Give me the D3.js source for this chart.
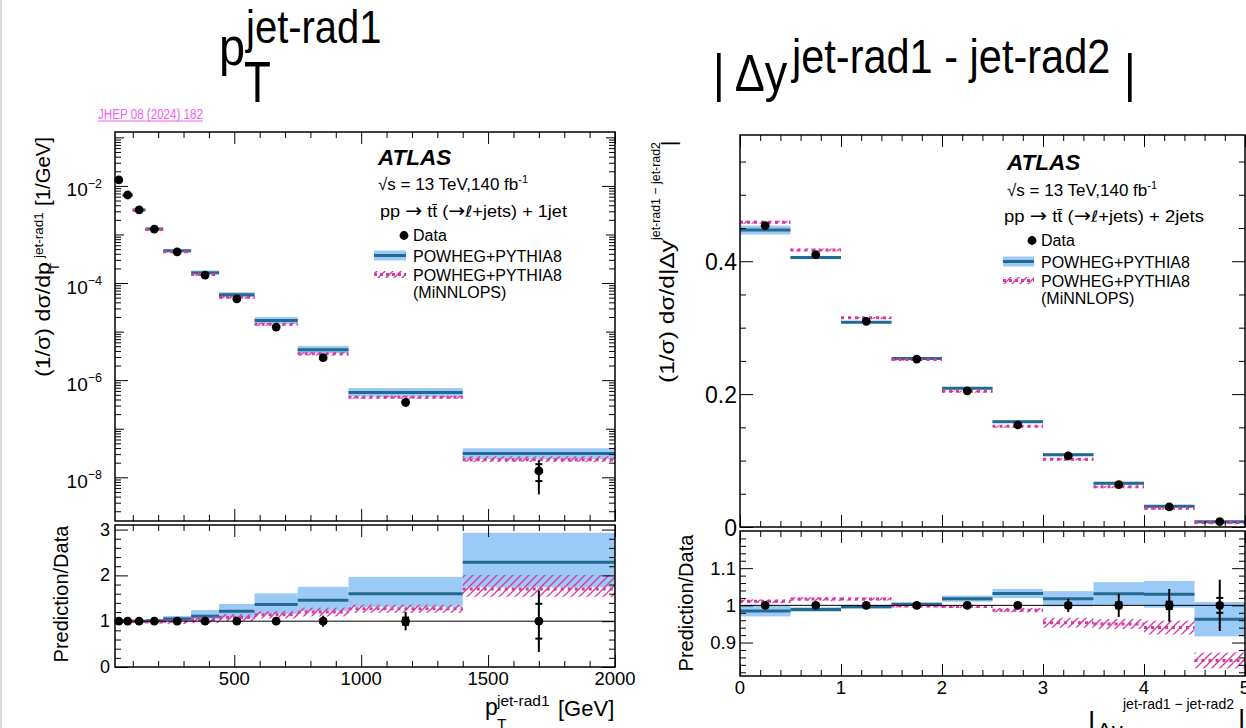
<!DOCTYPE html>
<html><head><meta charset="utf-8">
<script src="https://cdn.jsdelivr.net/npm/d3@7"></script>
<style>
html,body{margin:0;padding:0;background:#fff;}
svg{display:block;font-family:"Liberation Sans",Arial,Helvetica,sans-serif;}
</style></head><body>
<svg id="chart" width="1246" height="728"></svg>
<script>
// ---- leading radiated jet pT: bin edges [GeV], normalised cross-sections [1/GeV] ----
const ptEdges = [30, 60, 100, 150, 220, 330, 440, 580, 750, 950, 1400, 2000];
const ptData = [1.33e-2, 6.5e-3, 3.2e-3, 1.29e-3, 4.4e-4, 1.46e-4, 4.7e-5, 1.24e-5, 2.9e-6, 3.5e-7, 1.35e-8];
const ptDataTot = [0.02, 0.02, 0.02, 0.02, 0.02, 0.03, 0.03, 0.05, 0.12, 0.2, 0.67];
const ptDataStat = [0.005, 0.005, 0.005, 0.005, 0.01, 0.01, 0.01, 0.02, 0.04, 0.08, 0.38];
const ptPowheg = [1.33e-2, 6.5e-3, 3.2e-3, 1.30e-3, 4.62e-4, 1.62e-4, 5.73e-5, 1.69e-5, 4.23e-6, 5.6e-7, 3.09e-8];
const ptPowhegUp = [0.02, 0.02, 0.02, 0.03, 0.06, 0.12, 0.13, 0.18, 0.2, 0.23, 0.28];
const ptPowhegDn = [0.02, 0.02, 0.02, 0.03, 0.05, 0.06, 0.12, 0.15, 0.16, 0.18, 0.24];
const ptMinnlops = [1.317e-2, 6.44e-3, 3.17e-3, 1.264e-3, 4.4e-4, 1.504e-4, 5.08e-5, 1.414e-5, 3.48e-6, 4.45e-7, 2.3e-8];
const ptMinnlopsUp = [0.02, 0.02, 0.02, 0.02, 0.05, 0.07, 0.07, 0.07, 0.08, 0.07, 0.18];
const ptMinnlopsDn = [0.02, 0.02, 0.02, 0.02, 0.06, 0.07, 0.07, 0.07, 0.08, 0.07, 0.1];

// ---- rapidity separation of the two radiated jets ----
const dyEdges = [0, 0.5, 1, 1.5, 2, 2.5, 3, 3.5, 4, 4.5, 5];
const dyData = [0.4537, 0.41, 0.3095, 0.2527, 0.205, 0.1537, 0.107, 0.0639, 0.0302, 0.0081];
const dyDataTot = [0.01, 0.008, 0.006, 0.006, 0.008, 0.01, 0.018, 0.031, 0.044, 0.069];
const dyDataStat = [0.003, 0.003, 0.003, 0.003, 0.004, 0.005, 0.006, 0.008, 0.01, 0.02];
const dyPowheg = [0.4469, 0.4055, 0.3083, 0.2535, 0.2087, 0.1586, 0.1089, 0.0659, 0.0311, 0.0078];
const dyPowhegUnc = [0.015, 0.006, 0.005, 0.004, 0.008, 0.012, 0.02, 0.03, 0.035, 0.048];
const dyMinnlops = [0.4587, 0.417, 0.3148, 0.2522, 0.2044, 0.1517, 0.102, 0.0607, 0.0284, 0.0069];
const dyMinnlopsUnc = [0.005, 0.005, 0.004, 0.004, 0.004, 0.006, 0.014, 0.014, 0.02, 0.025];

// ---- tick labels ----
const ptLogLabels = [-8, -6, -4, -2];
const ptRatioLabels = [0, 1, 2, 3];
const ptXLabels = [500, 1000, 1500, 2000];
const dyMainLabels = [0, 0.2, 0.4];
const dyRatioLabels = [0.9, 1, 1.1];
const dyXLabels = [0, 1, 2, 3, 4, 5];

const MAG = '#d8389f', LBLUE = '#9ccaf6', DBLUE = '#236991', LINK = '#f25cf2';

const svg = d3.select('#chart');
const defs = svg.append('defs');
defs.append('pattern').attr('id', 'hatch').attr('patternUnits', 'userSpaceOnUse')
  .attr('width', 8).attr('height', 8)
  .append('path').attr('d', 'M-2,2 L2,-2 M0,8 L8,0 M6,10 L10,6')
  .attr('stroke', MAG).attr('stroke-width', 1.4).attr('fill', 'none');

svg.append('rect').attr('x', 0).attr('y', 0).attr('width', 2).attr('height', 728).attr('fill', '#dcdcdc');

function makeBins(edges, data, tot, stat, pow, powUp, powDn, min, minUp, minDn) {
  return data.map((d, i) => ({
    lo: edges[i], hi: edges[i + 1], mid: (edges[i] + edges[i + 1]) / 2,
    data: d, tot: tot[i], stat: stat[i],
    pow: pow[i], powUp: powUp[i], powDn: powDn[i],
    min: min[i], minUp: minUp[i], minDn: minDn[i]
  }));
}

const ptBins = makeBins(ptEdges, ptData, ptDataTot, ptDataStat, ptPowheg, ptPowhegUp, ptPowhegDn,
  ptMinnlops, ptMinnlopsUp, ptMinnlopsDn);
const dyBins = makeBins(dyEdges, dyData, dyDataTot, dyDataStat, dyPowheg, dyPowhegUnc, dyPowhegUnc,
  dyMinnlops, dyMinnlopsUnc, dyMinnlopsUnc);

let clipCount = 0;
function panelClip(xs, ys) {
  const id = 'clip' + (clipCount++);
  const [x0, x1] = xs.range(), [y1, y0] = ys.range();
  defs.append('clipPath').attr('id', id).append('rect')
    .attr('x', x0).attr('y', y0).attr('width', x1 - x0).attr('height', y1 - y0);
  return id;
}

// prediction bands: light-blue band + dark central line, magenta hatched band + dotted line
function drawModels(bins, xs, ys, ratio) {
  const f = b => ratio ? 1 / b.data : 1;
  const g = svg.append('g').attr('clip-path', `url(#${panelClip(xs, ys)})`);
  g.selectAll('rect.pow').data(bins).join('rect').attr('class', 'pow')
    .attr('x', b => xs(b.lo)).attr('width', b => xs(b.hi) - xs(b.lo))
    .attr('y', b => ys(b.pow * (1 + b.powUp) * f(b)))
    .attr('height', b => ys(b.pow * (1 - b.powDn) * f(b)) - ys(b.pow * (1 + b.powUp) * f(b)))
    .attr('fill', LBLUE);
  g.selectAll('line.pow').data(bins).join('line').attr('class', 'pow')
    .attr('x1', b => xs(b.lo)).attr('x2', b => xs(b.hi))
    .attr('y1', b => ys(b.pow * f(b))).attr('y2', b => ys(b.pow * f(b)))
    .attr('stroke', DBLUE).attr('stroke-width', 3);
  g.selectAll('rect.min').data(bins).join('rect').attr('class', 'min')
    .attr('x', b => xs(b.lo)).attr('width', b => xs(b.hi) - xs(b.lo))
    .attr('y', b => ys(b.min * (1 + b.minUp) * f(b)))
    .attr('height', b => Math.max(2, ys(b.min * (1 - b.minDn) * f(b)) - ys(b.min * (1 + b.minUp) * f(b))))
    .attr('fill', 'url(#hatch)');
  g.selectAll('line.min').data(bins).join('line').attr('class', 'min')
    .attr('x1', b => xs(b.lo)).attr('x2', b => xs(b.hi))
    .attr('y1', b => ys(b.min * f(b))).attr('y2', b => ys(b.min * f(b)))
    .attr('stroke', MAG).attr('stroke-width', 3).attr('stroke-dasharray', '3,4');
}

function drawData(bins, xs, ys, ratio) {
  const v = b => ratio ? 1 : b.data;
  const g = svg.append('g');
  g.selectAll('line.err').data(bins).join('line').attr('class', 'err')
    .attr('x1', b => xs(b.mid)).attr('x2', b => xs(b.mid))
    .attr('y1', b => ys(v(b) * (1 + b.tot))).attr('y2', b => ys(v(b) * (1 - b.tot)))
    .attr('stroke', '#000').attr('stroke-width', 2);
  const caps = bins.flatMap(b => [{b, s: 1}, {b, s: -1}]);
  g.selectAll('line.cap').data(caps).join('line').attr('class', 'cap')
    .attr('x1', c => xs(c.b.mid) - 3.5).attr('x2', c => xs(c.b.mid) + 3.5)
    .attr('y1', c => ys(v(c.b) * (1 + c.s * c.b.stat))).attr('y2', c => ys(v(c.b) * (1 + c.s * c.b.stat)))
    .attr('stroke', '#000').attr('stroke-width', 2);
  g.selectAll('circle').data(bins).join('circle')
    .attr('cx', b => xs(b.mid)).attr('cy', b => ys(v(b))).attr('r', 4.4).attr('fill', '#000');
}

function unityLine(xs, ys) {
  svg.append('line').attr('x1', xs.range()[0]).attr('x2', xs.range()[1])
    .attr('y1', ys(1)).attr('y2', ys(1)).attr('stroke', '#000').attr('stroke-width', 1);
}

// inward ticks on all four sides of a frame
function tickSet(xs, ys, side, values, size) {
  const [x0, x1] = xs.range(), [y1, y0] = ys.range();
  const mk = { left: d3.axisLeft, right: d3.axisRight, top: d3.axisTop, bottom: d3.axisBottom }[side];
  const sc = (side === 'left' || side === 'right') ? ys : xs;
  const pos = { left: [x0, 0], right: [x1, 0], top: [0, y0], bottom: [0, y1] }[side];
  const g = svg.append('g').attr('transform', `translate(${pos[0]},${pos[1]})`)
    .call(mk(sc).tickValues(values).tickSize(-size).tickFormat(''));
  g.select('.domain').remove();
  g.selectAll('line').attr('stroke', '#000').attr('stroke-width', 1);
}
function frame(xs, ys) {
  const [x0, x1] = xs.range(), [y1, y0] = ys.range();
  svg.append('rect').attr('x', x0).attr('y', y0).attr('width', x1 - x0).attr('height', y1 - y0)
    .attr('fill', 'none').attr('stroke', '#000').attr('stroke-width', 1.5);
}
function axesBox(xs, ys, xMajor, xMinor, yMajor, yMinor, yMid) {
  ['top', 'bottom'].forEach(s => { tickSet(xs, ys, s, xMajor, 12); tickSet(xs, ys, s, xMinor, 6); });
  ['left', 'right'].forEach(s => {
    tickSet(xs, ys, s, yMajor, 13); tickSet(xs, ys, s, yMinor, 6);
    if (yMid) tickSet(xs, ys, s, yMid, 9);
  });
  frame(xs, ys);
}

// ================= left: pT of the leading radiated jet =================
const lx = d3.scaleLinear().domain([30, 2000]).range([115, 615]);
const lyMain = d3.scaleLog().domain([Math.pow(10, -8.9), Math.pow(10, -0.89)]).range([521, 132]);
const lyRatio = d3.scaleLinear().domain([0, 3.1]).range([667, 525]);

drawModels(ptBins, lx, lyMain, false);
drawData(ptBins, lx, lyMain, false);
drawModels(ptBins, lx, lyRatio, true);
unityLine(lx, lyRatio);
drawData(ptBins, lx, lyRatio, true);

const ptXMinor = d3.range(100, 2000, 100).filter(v => v % 500 !== 0);
const decades = d3.range(-8, 0).map(e => Math.pow(10, e));
const logMinor = [];
d3.range(-9, 0).forEach(e => d3.range(2, 10).forEach(m => {
  const v = m * Math.pow(10, e);
  if (v > lyMain.domain()[0] && v < lyMain.domain()[1]) logMinor.push(v);
}));
axesBox(lx, lyMain, ptXLabels, ptXMinor,
  ptLogLabels.map(e => Math.pow(10, e)), logMinor, decades.filter((d, i) => i % 2 === 1));
axesBox(lx, lyRatio, ptXLabels, ptXMinor, ptRatioLabels,
  d3.range(0.2, 3.1, 0.2).filter(v => Math.abs(v - Math.round(v)) > 0.01));

// log-axis labels 10^n
ptLogLabels.forEach(e => {
  const t = svg.append('text').attr('x', 102).attr('y', lyMain(Math.pow(10, e)) + 10.5)
    .attr('text-anchor', 'end').attr('font-size', 19).text('10');
  t.append('tspan').attr('font-size', 12.5).attr('dy', -8.5).text('\u2212' + Math.abs(e));
});
ptRatioLabels.forEach(v => svg.append('text').attr('x', 110).attr('y', lyRatio(v) + 6)
  .attr('text-anchor', 'end').attr('font-size', 18).text(v));
ptXLabels.forEach(v => svg.append('text').attr('x', lx(v)).attr('y', 685)
  .attr('text-anchor', 'middle').attr('font-size', 18.5).text(v));

// ================= right: |Δy| between the two radiated jets =================
const rx = d3.scaleLinear().domain([0, 5]).range([740, 1245]);
const ryMain = d3.scaleLinear().domain([0, 0.59]).range([527, 135]);
const ryRatio = d3.scaleLinear().domain([0.81, 1.2]).range([676, 531]);

drawModels(dyBins, rx, ryMain, false);
drawData(dyBins, rx, ryMain, false);
drawModels(dyBins, rx, ryRatio, true);
unityLine(rx, ryRatio);
drawData(dyBins, rx, ryRatio, true);

const dyXMinor = d3.range(0.2, 5, 0.2).filter(v => Math.abs(v - Math.round(v)) > 0.01);
axesBox(rx, ryMain, dyXLabels, dyXMinor, dyMainLabels,
  d3.range(0.05, 0.59, 0.05).filter(v => Math.abs(v / 0.2 - Math.round(v / 0.2)) > 0.01));
axesBox(rx, ryRatio, dyXLabels, dyXMinor, dyRatioLabels,
  d3.range(0.82, 1.2, 0.02).filter(v => Math.abs(v * 10 - Math.round(v * 10)) > 0.01));

dyMainLabels.forEach(v => svg.append('text').attr('x', 737).attr('y', ryMain(v) + 8.5)
  .attr('text-anchor', 'end').attr('font-size', 23).text(v));
dyRatioLabels.forEach(v => svg.append('text').attr('x', 736).attr('y', ryRatio(v) + 6.5)
  .attr('text-anchor', 'end').attr('font-size', 18.5).text(v));
dyXLabels.forEach(v => svg.append('text').attr('x', rx(v)).attr('y', 694)
  .attr('text-anchor', 'middle').attr('font-size', 18.5).text(v));

// ================= titles =================
function stretched(x, y, size, str, sy) {
  return svg.append('text').attr('transform', `translate(${x},${y}) scale(1,${sy || 1.15})`)
    .attr('font-size', size).text(str);
}
stretched(219, 65, 47, 'p');
stretched(246, 43, 40, 'jet-rad1');
stretched(244, 102, 44, 'T', 1.3);
stretched(713, 91, 45, '| \u0394y');
stretched(792, 73, 41.5, 'jet-rad1 - jet-rad2');
stretched(1124, 91, 45, '|');

svg.append('text').attr('x', 98).attr('y', 119).attr('font-size', 14).attr('fill', LINK)
  .attr('textLength', 105).attr('lengthAdjust', 'spacingAndGlyphs').text('JHEP 08 (2024) 182');
svg.append('line').attr('x1', 98).attr('x2', 203).attr('y1', 121).attr('y2', 121)
  .attr('stroke', LINK).attr('stroke-width', 1);

// ================= axis titles =================
function rotated(xScreen, yScreen, size, str, anchor, len) {
  const t = svg.append('text').attr('transform', 'rotate(-90)')
    .attr('x', -yScreen).attr('y', xScreen).attr('font-size', size)
    .attr('text-anchor', anchor || 'start').text(str);
  if (len) t.attr('textLength', len).attr('lengthAdjust', 'spacingAndGlyphs');
  return t;
}
rotated(50, 377, 21, '(1/\u03c3) d\u03c3/dp', 'start', 115);
rotated(59, 271, 13, 'T');
rotated(43, 258, 13.5, 'jet-rad1');
rotated(50, 206, 21, '[1/GeV]', 'start', 69);
rotated(68, 594, 20, 'Prediction/Data', 'middle');

rotated(674, 383, 20, '(1/\u03c3) d\u03c3/d|\u0394y', 'start', 143);
rotated(660, 240, 13, 'jet-rad1 \u2212 jet-rad2', 'start', 98);
rotated(676, 146, 20, '|');
rotated(693, 603, 20, 'Prediction/Data', 'middle');

svg.append('text').attr('x', 485).attr('y', 715).attr('font-size', 23).text('p');
svg.append('text').attr('x', 497).attr('y', 706).attr('font-size', 15.5).text('jet-rad1');
svg.append('text').attr('x', 497).attr('y', 729).attr('font-size', 15.5).text('T');
svg.append('text').attr('x', 558).attr('y', 716).attr('font-size', 22).text('[GeV]');

svg.append('text').attr('x', 1088).attr('y', 731).attr('font-size', 28).text('|');
svg.append('text').attr('x', 1097).attr('y', 738).attr('font-size', 22).text('\u0394y');
svg.append('text').attr('x', 1123).attr('y', 709).attr('font-size', 14.5)
  .attr('textLength', 111).attr('lengthAdjust', 'spacingAndGlyphs').text('jet-rad1 \u2212 jet-rad2');
svg.append('text').attr('x', 1238).attr('y', 729).attr('font-size', 28).text('|');

// ================= ATLAS labels and legends =================
function processLine(x, y, njet, len) {
  const t = svg.append('text').attr('x', x).attr('y', y).attr('font-size', 17)
    .attr('textLength', len).attr('lengthAdjust', 'spacingAndGlyphs');
  t.append('tspan').text('pp ');
  t.append('tspan').attr('font-family', 'DejaVu Sans').attr('font-size', 19).text('\u2192');
  t.append('tspan').text(' tt\u0304 (');
  t.append('tspan').attr('font-family', 'DejaVu Sans').attr('font-size', 19).text('\u2192');
  t.append('tspan').attr('font-family', 'DejaVu Sans').attr('font-style', 'italic').attr('font-size', 16).text('\u2113');
  t.append('tspan').text('+jets) + ' + njet);
}
function legend(x, yAtlas, ySqrt, yProc, proc, leg) {
  svg.append('text').attr('x', x).attr('y', yAtlas).attr('font-size', 22.5)
    .attr('font-weight', 'bold').attr('font-style', 'italic').text('ATLAS');
  const s = svg.append('text').attr('x', x).attr('y', ySqrt).attr('font-size', 17)
    .text('\u221As = 13 TeV,140 fb');
  s.append('tspan').attr('font-size', 11).attr('dy', -7).text('-1');
  processLine(proc.x, yProc, proc.njet, proc.len);

  const tx = leg.tx;
  svg.append('circle').attr('cx', leg.dotX).attr('cy', leg.yData - 5.5).attr('r', 4.4).attr('fill', '#000');
  svg.append('text').attr('x', tx).attr('y', leg.yData).attr('font-size', 16).text('Data');

  const sy = leg.yPow - 6.5;
  svg.append('rect').attr('x', leg.sx0).attr('y', sy - 5).attr('width', leg.sx1 - leg.sx0).attr('height', 10)
    .attr('fill', LBLUE);
  svg.append('line').attr('x1', leg.sx0).attr('x2', leg.sx1).attr('y1', sy).attr('y2', sy)
    .attr('stroke', DBLUE).attr('stroke-width', 3);
  svg.append('text').attr('x', tx).attr('y', leg.yPow).attr('font-size', 16).text('POWHEG+PYTHIA8');

  const my = leg.yMin - 6.5;
  svg.append('rect').attr('x', leg.sx0).attr('y', my - 3.5).attr('width', leg.sx1 - leg.sx0).attr('height', 7)
    .attr('fill', 'url(#hatch)');
  svg.append('line').attr('x1', leg.sx0).attr('x2', leg.sx1).attr('y1', my).attr('y2', my)
    .attr('stroke', MAG).attr('stroke-width', 3).attr('stroke-dasharray', '3,3');
  svg.append('text').attr('x', tx).attr('y', leg.yMin).attr('font-size', 16).text('POWHEG+PYTHIA8');
  svg.append('text').attr('x', tx).attr('y', leg.yMin + 17).attr('font-size', 16).text('(MiNNLOPS)');
}
legend(378, 165, 190, 217, { x: 380, njet: '1jet', len: 187 },
  { tx: 413, dotX: 404, yData: 241, yPow: 262, yMin: 281, sx0: 374, sx1: 406 });
legend(1007, 170, 196, 222, { x: 1004, njet: '2jets', len: 200 },
  { tx: 1041, dotX: 1032, yData: 246, yPow: 268, yMin: 287, sx0: 1003, sx1: 1034 });
</script>
</body></html>
